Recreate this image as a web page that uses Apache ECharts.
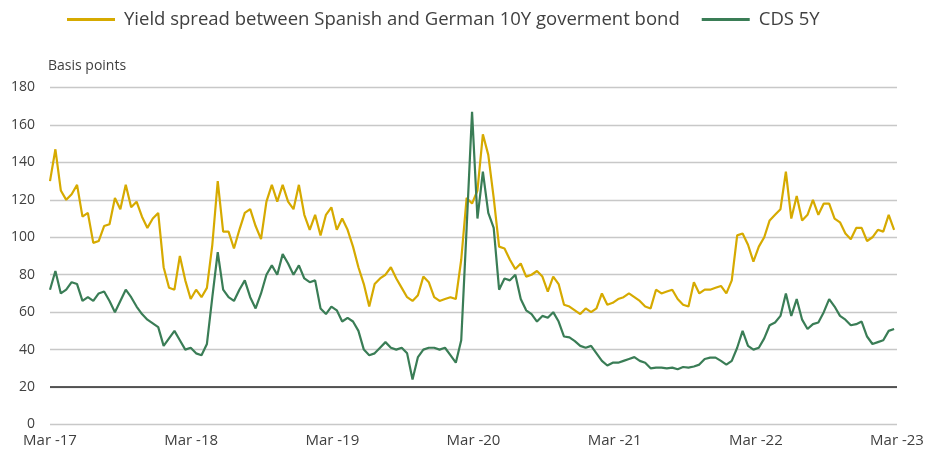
<!DOCTYPE html>
<html>
<head>
<meta charset="utf-8">
<script src="https://cdn.jsdelivr.net/npm/echarts@6/dist/echarts.min.js"></script>
<style>
html,body{margin:0;padding:0;background:#fff;}
#chart{width:927px;height:455px;}
</style>
</head>
<body>
<div id="chart"></div>
<script>
// x: one value every 14 days, starting 1 March 2017
const startDate = '2017-03-01';
const stepDays = 14;
const xTickLabels = ['Mar -17','Mar -18','Mar -19','Mar -20','Mar -21','Mar -22','Mar -23'];
const seriesNames = ['Yield spread between Spanish and German 10Y goverment bond', 'CDS 5Y'];

const spreadValues = [
130,147,125,120,123,128,111,113,97,98,106,107,121,115,128,116,119,111,105,110,
113,84,73,72,90,77,67,72,68,73,96,130,103,103,94,104,113,115,106,99,
119,128,119,128,119,115,128,112,104,112,101,112,116,104,110,104,95,84,75,63,
75,78,80,84,78,73,68,66,69,79,76,68,66,67,68,67,88,121,118,125,
155,144,121,95,94,88,83,86,79,80,82,79,71,79,75,64,63,61,59,62,
60,62,70,64,65,67,68,70,68,66,63,62,72,70,71,72,67,64,63,76,
70,72,72,73,74,70,77,101,102,96,87,95,100,109,112,115,135,110,122,109,
112,120,112,118,118,110,108,102,99,105,105,98,100,104,103,112,104
];

const cdsValues = [
72,82,70,72,76,75,66,68,66,70,71,66,60,66,72,68,63,59,56,54,
52,42,46,50,45,40,41,38,37,43,68,92,72,68,66,72,77,68,62,70,
80,85,80,91,86,80,85,78,76,77,62,59,63,61,55,57,55,50,40,37,
38,41,44,41,40,41,38,24,36,40,41,41,40,41,37,33,45,105,167,110,
135,113,105,72,78,77,80,67,61,59,55,58,57,60,55,47,46.5,44.5,42,41,
42,38,34,31.5,33,33,34,35,36,34,33,30,30.4,30.4,30,30.4,29.5,30.7,30.4,31,
32,35,35.7,35.7,34,32,34,41,50,42,40,41,46,53,54.5,58,70,58,67,56,
51,53.6,54.5,60,67,63,58,56,53,53.6,55,47,43,44,45,50,51
];

function toPairs(vals){
  return vals.map((v,i)=>[i*stepDays/365.25, v]);
}

const chart = echarts.init(document.getElementById('chart'));
const txt = '#404040';
const font = 'Open Sans';
chart.setOption({
  animation:false,
  textStyle:{fontFamily:font},
  legend:{
    top:5, left:62,
    itemWidth:48, itemHeight:3, itemGap:22,
    icon:'rect',
    textStyle:{fontSize:18.5, color:txt, fontFamily:font, padding:[0,0,0,4]},
    data:seriesNames
  },
  grid:{left:50, right:30, top:87.5, bottom:30.5},
  xAxis:{
    type:'value', min:0, max:6, interval:1,
    axisLine:{show:false}, axisTick:{show:false}, splitLine:{show:false},
    axisLabel:{color:txt, fontSize:15, margin:9, fontFamily:font,
      formatter:(v)=>xTickLabels[Math.round(v)] || ''}
  },
  yAxis:{
    type:'value', min:0, max:180, interval:20,
    name:'Basis points', nameLocation:'end', nameGap:14,
    nameTextStyle:{color:txt, fontSize:14, align:'left', padding:[0,0,0,-2], fontFamily:font},
    axisLine:{show:false}, axisTick:{show:false},
    axisLabel:{color:txt, fontSize:14, margin:15, fontFamily:font},
    splitLine:{lineStyle:{color:'#c8c8c8', width:1.3}}
  },
  series:[
    {
      name:seriesNames[0], type:'line', data:toPairs(spreadValues),
      showSymbol:false, symbol:'none',
      lineStyle:{color:'#d6aa00', width:2.2},
      itemStyle:{color:'#d6aa00'},
      markLine:{
        silent:true, symbol:'none', label:{show:false},
        lineStyle:{color:'#2b2b2b', width:1.5, type:'solid'},
        data:[{yAxis:20}]
      }
    },
    {
      name:seriesNames[1], type:'line', data:toPairs(cdsValues),
      showSymbol:false, symbol:'none',
      lineStyle:{color:'#3a7d56', width:2.2},
      itemStyle:{color:'#3a7d56'}
    }
  ]
});
</script>
</body>
</html>
